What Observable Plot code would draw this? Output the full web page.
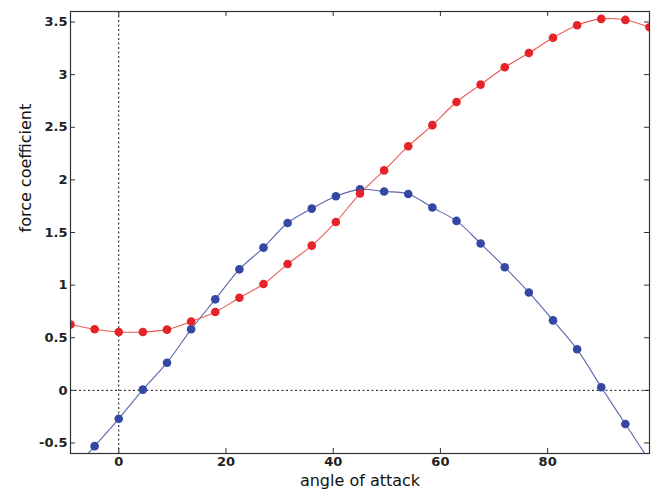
<!DOCTYPE html>
<html>
<head>
<meta charset="utf-8">
<script src="https://cdn.jsdelivr.net/npm/d3@7"></script>
<script src="https://cdn.jsdelivr.net/npm/@observablehq/plot@0.6"></script>
<style>
  html, body { margin: 0; padding: 0; background: #fff; }
  #chart { width: 661px; height: 494px; }
</style>
</head>
<body>
<div id="chart"></div>
<script>
const angle = [-9, -4.5, 0, 4.5, 9, 13.5, 18, 22.5, 27, 31.5, 36, 40.5, 45, 49.5, 54, 58.5, 63, 67.5, 72, 76.5, 81, 85.5, 90, 94.5, 99];
const redSeries = [0.625, 0.58, 0.555, 0.555, 0.577, 0.655, 0.745, 0.88, 1.01, 1.2, 1.375, 1.6, 1.87, 2.09, 2.32, 2.52, 2.74, 2.905, 3.07, 3.205, 3.35, 3.47, 3.53, 3.52, 3.45];
const blueSeries = [-0.79, -0.53, -0.27, 0.007, 0.263, 0.58, 0.865, 1.15, 1.356, 1.59, 1.727, 1.844, 1.91, 1.89, 1.866, 1.737, 1.61, 1.395, 1.17, 0.93, 0.665, 0.39, 0.03, -0.32, -0.67];
const xTicks = [0, 20, 40, 60, 80];
const xTickLabels = ["0", "20", "40", "60", "80"];
const yTicks = [-0.5, 0, 0.5, 1, 1.5, 2, 2.5, 3, 3.5];
const yTickLabels = ["-0.5", "0", "0.5", "1", "1.5", "2", "2.5", "3", "3.5"];

const red = angle.map((a, i) => ({a, v: redSeries[i]}));
const blue = angle.map((a, i) => ({a, v: blueSeries[i]}));

const W = 661, H = 494, mL = 70, mT = 11, mR = 12, mB = 41;
const iw = W - mL - mR, ih = H - mT - mB, tk = 5;

const chart = Plot.plot({
  width: W, height: H,
  marginLeft: mL, marginTop: mT, marginRight: mR, marginBottom: mB,
  style: {fontFamily: "DejaVu Sans", fontSize: "13px", color: "#222", background: "#fff"},
  x: {domain: [-9, 99]},
  y: {domain: [-0.6, 3.6]},
  marks: [
    Plot.ruleX([0], {stroke: "#111", strokeDasharray: "2,2.5", strokeWidth: 1}),
    Plot.ruleY([0], {stroke: "#111", strokeDasharray: "2,2.5", strokeWidth: 1}),
    Plot.line(blue, {x: "a", y: "v", stroke: "#5b66ae", strokeWidth: 1.1, curve: "catmull-rom", clip: true}),
    Plot.line(red, {x: "a", y: "v", stroke: "#ea5a55", strokeWidth: 1.1, curve: "catmull-rom", clip: true}),
    Plot.dot(blue, {x: "a", y: "v", r: 4.3, fill: "#3447a3", clip: true}),
    Plot.dot(red, {x: "a", y: "v", r: 4.3, fill: "#e5242a", clip: true}),
    // inward tick marks on all sides
    Plot.tickX(xTicks, {x: d => d, stroke: "#333", insetTop: ih - tk}),
    Plot.tickX(xTicks, {x: d => d, stroke: "#333", insetBottom: ih - tk}),
    Plot.tickY(yTicks, {y: d => d, stroke: "#333", insetLeft: iw - tk}),
    Plot.tickY(yTicks, {y: d => d, stroke: "#333", insetRight: iw - tk}),
    Plot.axisX({ticks: xTicks, tickSize: 0, tickPadding: 3, tickFormat: (d) => xTickLabels[xTicks.indexOf(d)], fontSize: 13, fontWeight: "bold", fill: "#222", label: null}),
    Plot.axisY({ticks: yTicks, tickSize: 0, tickPadding: 3, tickFormat: (d) => yTickLabels[yTicks.indexOf(d)], fontSize: 13, fontWeight: "bold", fill: "#222", label: null}),
    Plot.text(["angle of attack"], {frameAnchor: "bottom", dy: 32, fontSize: 16, fill: "#111"}),
    Plot.text(["force coefficient"], {frameAnchor: "left", dx: -45, rotate: -90, fontSize: 16, fill: "#111"}),
    Plot.frame({stroke: "#333", strokeWidth: 1.2})
  ]
});
document.getElementById("chart").appendChild(chart);
</script>
</body>
</html>
